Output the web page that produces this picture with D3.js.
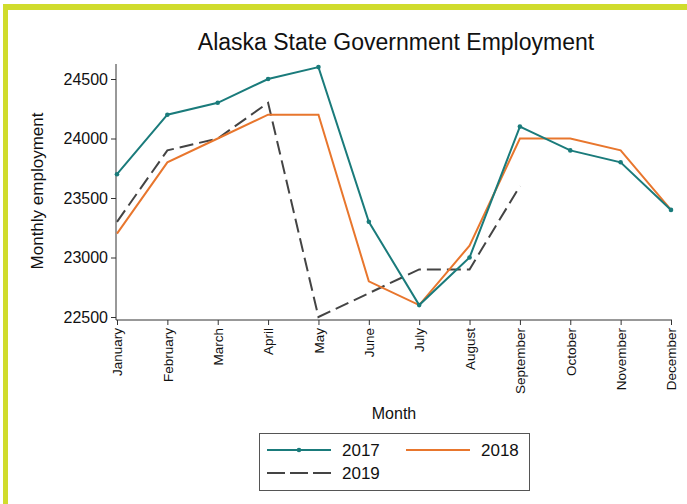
<!DOCTYPE html>
<html>
<head>
<meta charset="utf-8">
<script src="https://cdn.jsdelivr.net/npm/d3@7"></script>
<style>
body { margin: 0; background: #fff; }
text { font-family: "Liberation Sans", Arial, sans-serif; fill: #111; }
</style>
</head>
<body>
<svg id="chart" width="687" height="504"></svg>
<script>
var months = ["January","February","March","April","May","June","July","August","September","October","November","December"];
var emp2017 = [23700, 24200, 24300, 24500, 24600, 23300, 22600, 23000, 24100, 23900, 23800, 23400];
var emp2018 = [23200, 23800, 24000, 24200, 24200, 22800, 22600, 23100, 24000, 24000, 23900, 23400];
var emp2019 = [23300, 23900, 24000, 24300, 22500, 22700, 22900, 22900, 23600];
var yTicks = [22500, 23000, 23500, 24000, 24500];

var svg = d3.select('#chart');

// cornice verde
svg.append('rect').attr('x', 0).attr('y', 0).attr('width', 687).attr('height', 504).attr('fill', '#fff');
svg.append('rect').attr('x', 3).attr('y', 4).attr('width', 684).attr('height', 6).attr('fill', '#d0dc2c');
svg.append('rect').attr('x', 3).attr('y', 4).attr('width', 5).attr('height', 500).attr('fill', '#d0dc2c');

var x = d3.scalePoint().domain(months).range([117, 671]);
var y = d3.scaleLinear().domain([22500, 24500]).range([317, 79]);

// asse y
var yAxis = svg.append('g')
    .attr('transform', 'translate(116,0)')
    .call(d3.axisLeft(y).tickValues(yTicks).tickSize(5).tickPadding(3).tickFormat(d3.format('d')));
yAxis.select('.domain').attr('d', 'M0,64V320').attr('stroke', '#333');
yAxis.selectAll('.tick line').attr('stroke', '#333');
yAxis.selectAll('.tick text').style('font-size', '16px').style('font-family', '"Liberation Sans", Arial, sans-serif').attr('fill', '#111');

// asse x
var xAxis = svg.append('g')
    .attr('transform', 'translate(0,320)')
    .call(d3.axisBottom(x).tickSize(5).tickPadding(3));
xAxis.select('.domain').attr('d', 'M116,0H672').attr('stroke', '#333');
xAxis.selectAll('.tick line').attr('stroke', '#333');
xAxis.selectAll('.tick text')
    .style('font-size', '13.5px')
    .style('font-family', '"Liberation Sans", Arial, sans-serif')
    .attr('fill', '#111')
    .attr('text-anchor', 'end')
    .attr('transform', 'rotate(-90)')
    .attr('x', -8)
    .attr('y', 0)
    .attr('dy', '0.35em');

var line = d3.line()
    .x((d, i) => x(months[i]))
    .y(d => y(d));

svg.append('path').datum(emp2019)
    .attr('fill', 'none').attr('stroke', '#444').attr('stroke-width', 2)
    .attr('stroke-dasharray', '14,6')
    .attr('d', line);

svg.append('path').datum(emp2018)
    .attr('fill', 'none').attr('stroke', '#e8762d').attr('stroke-width', 2)
    .attr('d', line);

svg.append('path').datum(emp2017)
    .attr('fill', 'none').attr('stroke', '#1a7b7b').attr('stroke-width', 2)
    .attr('d', line);

svg.append('g').selectAll('circle')
    .data(emp2017)
    .join('circle')
    .attr('cx', (d, i) => x(months[i]))
    .attr('cy', d => y(d))
    .attr('r', 2.3)
    .attr('fill', '#1a7b7b');

// titoli
svg.append('text').attr('x', 396).attr('y', 50).attr('text-anchor', 'middle')
    .style('font-size', '23px').text('Alaska State Government Employment');
svg.append('text').attr('transform', 'translate(43,191) rotate(-90)').attr('text-anchor', 'middle')
    .style('font-size', '17px').text('Monthly employment');
svg.append('text').attr('x', 394).attr('y', 419).attr('text-anchor', 'middle')
    .style('font-size', '16px').text('Month');

// legenda
var leg = svg.append('g');
leg.append('rect').attr('x', 259.5).attr('y', 433.5).attr('width', 270).attr('height', 57)
    .attr('fill', '#fff').attr('stroke', '#555').attr('stroke-width', 1);
var items = [
    {label: '2017', color: '#1a7b7b', dash: null, dot: true, lx: 267, ly: 450},
    {label: '2018', color: '#e8762d', dash: null, dot: false, lx: 406, ly: 450},
    {label: '2019', color: '#444', dash: '18,5', dot: false, lx: 267, ly: 473}
];
items.forEach(function(it) {
    leg.append('line').attr('x1', it.lx).attr('x2', it.lx + 64).attr('y1', it.ly).attr('y2', it.ly)
        .attr('stroke', it.color).attr('stroke-width', 2).attr('stroke-dasharray', it.dash);
    if (it.dot) leg.append('circle').attr('cx', it.lx + 32).attr('cy', it.ly).attr('r', 2.3).attr('fill', it.color);
    leg.append('text').attr('x', it.lx + 75).attr('y', it.ly + 6).style('font-size', '17px').text(it.label);
});
</script>
</body>
</html>
